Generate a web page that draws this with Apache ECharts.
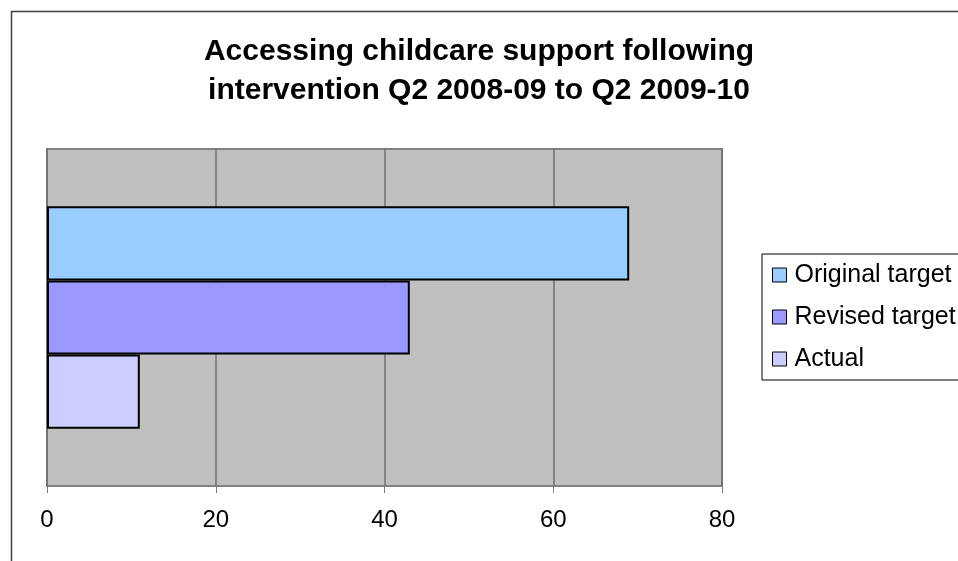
<!DOCTYPE html>
<html>
<head>
<meta charset="utf-8">
<script src="https://cdn.jsdelivr.net/npm/echarts@6/dist/echarts.min.js"></script>
<style>
    html, body { margin: 0; padding: 0; background: #fff; }
    #main { width: 958px; height: 561px; }
</style>
</head>
<body>
<div id="main"></div>
<script>
const categories = [''];
const seriesNames = ['Original target', 'Revised target', 'Actual'];
const originalTarget = [69];
const revisedTarget = [43];
const actual = [11];
const xTicks = [0, 20, 40, 60, 80];

const colors = ['#99CCFF', '#9999FF', '#CCCCFF'];
const values = [originalTarget, revisedTarget, actual];
const font = "'Liberation Sans', Arial, sans-serif";

const chart = echarts.init(document.getElementById('main'));

const series = seriesNames.map((name, i) => {
    return {
        name: name,
        type: 'bar',
        data: values[i],
        barGap: '0%',
        barCategoryGap: '34%',
        itemStyle: {
            color: colors[i],
            borderColor: '#000',
            borderWidth: 2
        },
        emphasis: { disabled: true }
    };
});

const option = {
    animation: false,
    title: {
        text: 'Accessing childcare support following\nintervention Q2 2008-09 to Q2 2009-10',
        left: 'center',
        top: 27,
        textStyle: {
            fontFamily: font,
            fontWeight: 'bold',
            fontSize: 30,
            lineHeight: 39,
            color: '#000'
        }
    },
    legend: {
        orient: 'vertical',
        left: 762,
        top: 254,
        padding: [6, 14, 6, 10],
        itemGap: 12,
        itemWidth: 14,
        itemHeight: 14,
        icon: 'rect',
        borderColor: '#000',
        borderWidth: 1,
        data: seriesNames,
        itemStyle: { borderColor: '#000', borderWidth: 1 },
        textStyle: {
            fontFamily: font,
            fontSize: 25,
            lineHeight: 30,
            color: '#000',
            padding: [0, 0, 0, 3]
        }
    },
    grid: {
        left: 47,
        right: 236,
        top: 149,
        bottom: 75,
        show: true,
        backgroundColor: '#C0C0C0',
        borderColor: '#808080',
        borderWidth: 2
    },
    xAxis: {
        type: 'value',
        min: xTicks[0],
        max: xTicks[xTicks.length - 1],
        interval: 20,
        axisLine: { show: false },
        axisTick: { show: true, length: 7, lineStyle: { color: '#808080' } },
        splitLine: { show: true, lineStyle: { color: '#707070', width: 1.5 } },
        axisLabel: {
            fontFamily: font,
            fontSize: 24,
            color: '#000',
            margin: 22
        }
    },
    yAxis: {
        type: 'category',
        data: categories,
        inverse: true,
        axisLine: { show: false },
        axisTick: { show: false },
        axisLabel: { show: false }
    },
    graphic: [
        {
            type: 'rect',
            left: 9,
            top: 9,
            shape: { width: 1000, height: 600 },
            style: { fill: null, stroke: '#404040', lineWidth: 1.5 },
            silent: true
        }
    ],
    series: series
};

chart.setOption(option);
</script>
</body>
</html>
